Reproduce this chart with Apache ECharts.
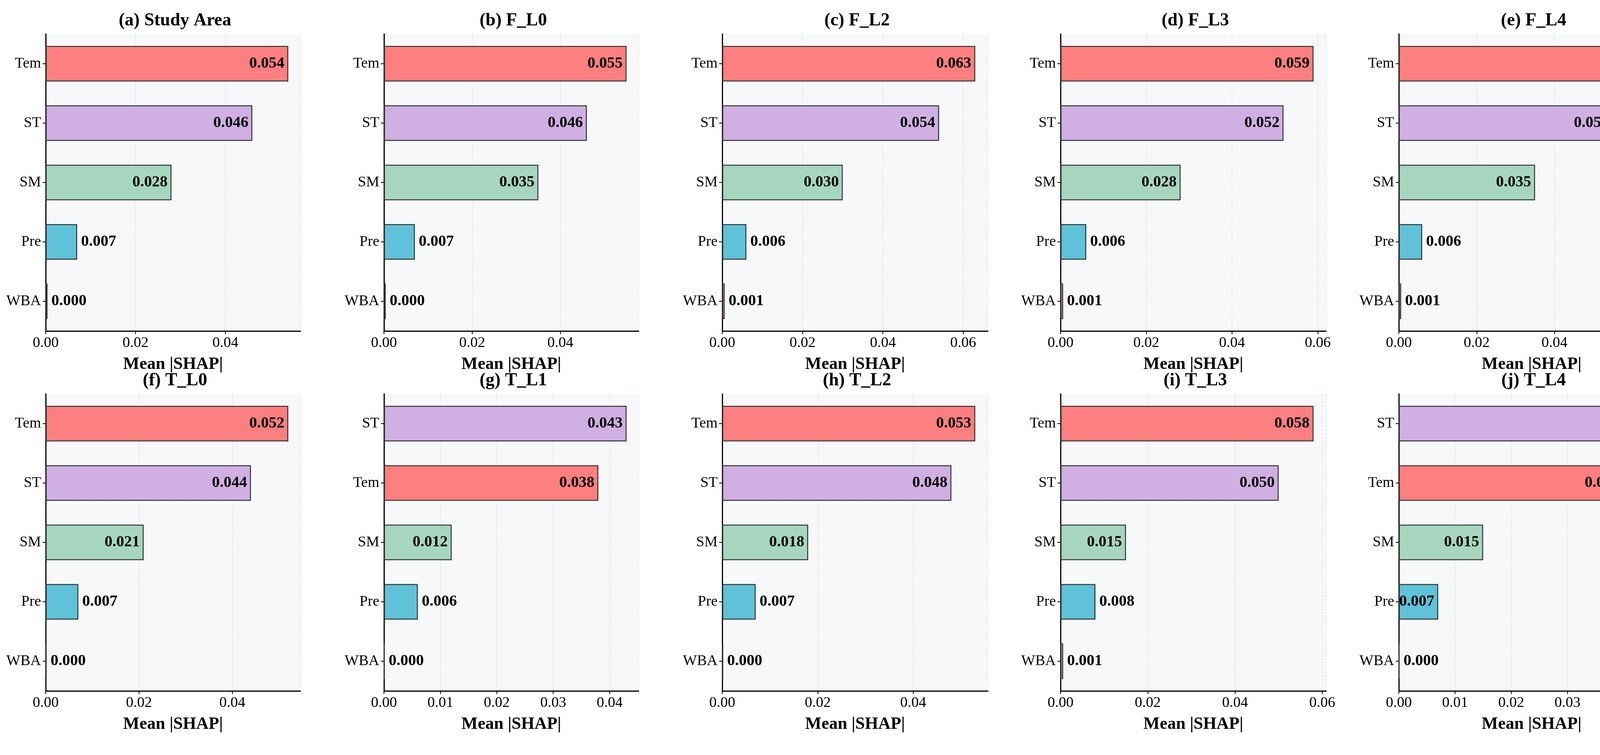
<!DOCTYPE html>
<html>
  <head>
    <meta charset="utf-8" />
    <title>Mean |SHAP|</title>
    <script src="https://cdn.jsdelivr.net/npm/echarts@6/dist/echarts.min.js"></script>
    <style>
      html, body { margin: 0; padding: 0; background: #fff; }
    </style>
  </head>
  <body>
    <div id="main" style="width: 4271px; height: 1932px"></div>

    <script type="text/javascript">
      // panel titles
      var titles = [
        "(a) Study Area", "(b) F_L0", "(c) F_L2", "(d) F_L3", "(e) F_L4",
        "(f) T_L0", "(g) T_L1", "(h) T_L2", "(i) T_L3", "(j) T_L4",
      ];
      // features per panel, top to bottom
      var features = [
        ["Tem", "ST", "SM", "Pre", "WBA"],
        ["Tem", "ST", "SM", "Pre", "WBA"],
        ["Tem", "ST", "SM", "Pre", "WBA"],
        ["Tem", "ST", "SM", "Pre", "WBA"],
        ["Tem", "ST", "SM", "Pre", "WBA"],
        ["Tem", "ST", "SM", "Pre", "WBA"],
        ["ST", "Tem", "SM", "Pre", "WBA"],
        ["Tem", "ST", "SM", "Pre", "WBA"],
        ["Tem", "ST", "SM", "Pre", "WBA"],
        ["ST", "Tem", "SM", "Pre", "WBA"],
      ];
      // mean |SHAP| values, same order as features
      var values = [
        [0.054, 0.046, 0.028, 0.007, 0.0004],
        [0.055, 0.046, 0.035, 0.007, 0.0004],
        [0.063, 0.054, 0.030, 0.006, 0.0006],
        [0.059, 0.052, 0.028, 0.006, 0.0006],
        [0.065, 0.055, 0.035, 0.006, 0.0006],
        [0.052, 0.044, 0.021, 0.007, 0.0002],
        [0.043, 0.038, 0.012, 0.006, 0.0001],
        [0.053, 0.048, 0.018, 0.007, 0.0002],
        [0.058, 0.050, 0.015, 0.008, 0.0006],
        [0.045, 0.040, 0.015, 0.007, 0.0001],
      ];
      // tick step of each x axis
      var steps = [0.02, 0.02, 0.02, 0.02, 0.02, 0.02, 0.01, 0.02, 0.02, 0.01];

      var colors = {
        Tem: "#fd7f7f",
        ST: "#d0afe2",
        SM: "#a6d6c0",
        Pre: "#5fc2d8",
        WBA: "#f0a07e",
      };

      var font = "Liberation Serif";
      var myChart = echarts.init(document.getElementById("main"));

      var grid = [], xAxis = [], yAxis = [], series = [], title = [];
      titles.forEach(function (t, i) {
        var col = i % 5, row = Math.floor(i / 5);
        var left = 117 + col * 866;
        var top = row === 0 ? 87 : 1008;
        var width = col < 2 ? 652 : 680;
        var height = 760;
        grid.push({
          left: left, top: top, width: width, height: height,
          show: true, backgroundColor: "#f7f8fa", borderWidth: 0,
        });
        title.push({
          text: t, left: left + width / 2, top: top - 62, textAlign: "center",
          textStyle: { fontFamily: font, fontSize: 46, fontWeight: "bold", color: "#000" },
        });
        var vmax = Math.max.apply(null, values[i]);
        xAxis.push({
          gridIndex: i, type: "value", min: 0, max: vmax * 1.05, interval: steps[i],
          name: "Mean |SHAP|", nameLocation: "middle", nameGap: 64,
          nameTextStyle: { fontFamily: font, fontSize: 44, fontWeight: "bold", color: "#000" },
          axisLine: { show: true, lineStyle: { color: "#000", width: 3 } },
          axisTick: { show: true, length: 8, lineStyle: { color: "#000", width: 2 } },
          axisLabel: {
            fontFamily: font, fontSize: 38, color: "#000", margin: 12, showMaxLabel: false,
            formatter: function (v) { return v.toFixed(2); },
          },
          splitLine: { show: true, lineStyle: { color: "#e4e4e8", type: "dashed", width: 1.5 } },
        });
        yAxis.push({
          gridIndex: i, type: "category", inverse: true, data: features[i],
          axisLine: { show: true, lineStyle: { color: "#000", width: 3 } },
          axisTick: { show: true, alignWithLabel: true, length: 8, lineStyle: { color: "#000", width: 2 } },
          axisLabel: { fontFamily: font, fontSize: 38, color: "#000", margin: 12 },
        });
        series.push({
          type: "bar", xAxisIndex: i, yAxisIndex: i, barCategoryGap: "40%",
          data: values[i].map(function (v, k) {
            var inside = v > 0.15 * vmax;
            return {
              value: v,
              itemStyle: { color: colors[features[i][k]], borderColor: "#333", borderWidth: 2.5 },
              label: {
                show: true, position: inside ? "insideRight" : "right",
                distance: 10,
                formatter: v.toFixed(3),
                fontFamily: font, fontSize: 40, fontWeight: "bold", color: "#000",
              },
            };
          }),
        });
      });

      myChart.setOption({
        animation: false,
        title: title, grid: grid, xAxis: xAxis, yAxis: yAxis, series: series,
      });
    </script>
  </body>
</html>
